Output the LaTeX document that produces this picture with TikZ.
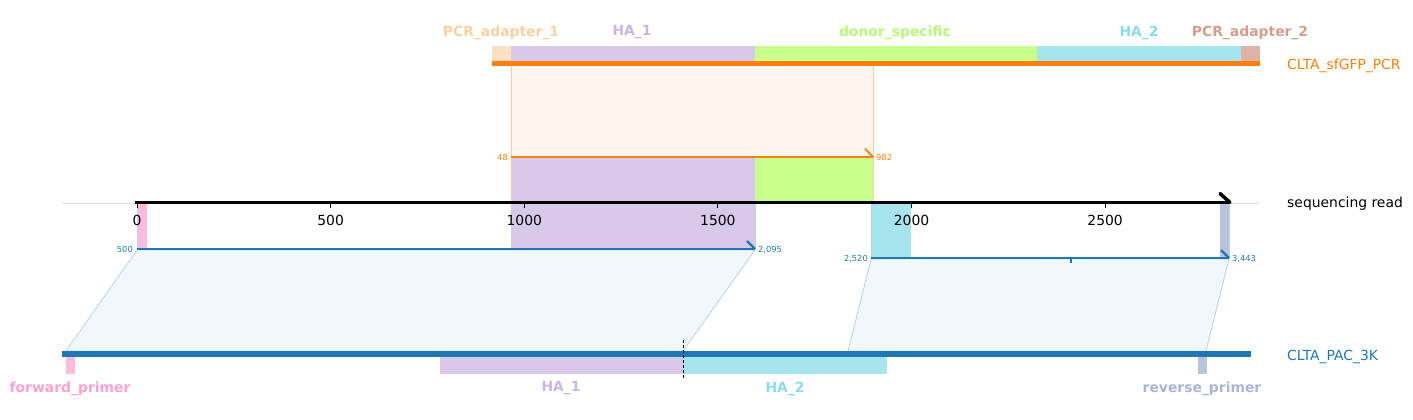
\documentclass[tikz,border=0pt]{standalone}
\usepackage{fontspec}
\setmainfont{DejaVu Sans}
\definecolor{orng}{HTML}{FF7F0E}
\definecolor{blu}{HTML}{1F77B4}
\definecolor{adOneBox}{HTML}{FBE0C4}
\definecolor{adOneTxt}{HTML}{F8D0A2}
\definecolor{haOneBox}{HTML}{D8C8EA}
\definecolor{haOneTxt}{HTML}{C9B5E5}
\definecolor{donBox}{HTML}{C8FF8C}
\definecolor{donTxt}{HTML}{BAF77C}
\definecolor{haTwoBox}{HTML}{A8E4EE}
\definecolor{haTwoTxt}{HTML}{8ED9EA}
\definecolor{adTwoBox}{HTML}{DFB2A6}
\definecolor{adTwoTxt}{HTML}{D89C8C}
\definecolor{fwdBox}{HTML}{FFBBDD}
\definecolor{fwdTxt}{HTML}{FFA0D0}
\definecolor{revBox}{HTML}{B8C4DC}
\definecolor{revTxt}{HTML}{A8B5D6}
\definecolor{orFill}{HTML}{FEF5EF}
\definecolor{orEdge}{HTML}{FBCCA6}
\definecolor{blFill}{HTML}{F2F7FB}
\definecolor{blEdge}{HTML}{B4D3EA}
\tikzset{
  feat/.style={font=\bfseries\fontsize{13.9}{15}\selectfont, inner sep=0pt},
  rowname/.style={font=\fontsize{13.9}{15}\selectfont, anchor=west, inner sep=0pt},
  ticklab/.style={font=\fontsize{13.9}{15}\selectfont, inner sep=0pt},
  small/.style={font=\fontsize{8.3}{9}\selectfont, inner sep=0pt},
  mapline/.style={line width=2.2pt},
}
\begin{document}
\begin{tikzpicture}[x=1pt,y=-1pt]
\useasboundingbox (0,0) rectangle (1413,420);
% ---------- top construct ----------
\fill[adOneBox] (492,46) rectangle (511,61);
\fill[haOneBox] (511,46) rectangle (755,61);
\fill[donBox] (755,46) rectangle (1037,61);
\fill[haTwoBox] (1037,46) rectangle (1241,61);
\fill[adTwoBox] (1241,46) rectangle (1260,61);
\draw[orng, line width=5pt] (492,63.5) -- (1260,63.5);
\node[feat, text=adOneTxt] (lAd1) at (501,32.5) {PCR\_adapter\_1};
\node[feat, text=haOneTxt] (lHa1t) at (632,32.5) {HA\_1};
\node[feat, text=donTxt] (lDon) at (895,32.5) {donor\_specific};
\node[feat, text=haTwoTxt] (lHa2t) at (1139,32.5) {HA\_2};
\node[feat, text=adTwoTxt] (lAd2) at (1250,32.5) {PCR\_adapter\_2};
\node[rowname, text=orng] (nTop) at (1287,65.5) {CLTA\_sfGFP\_PCR};
% ---------- top alignment ----------
\fill[orFill] (511,66) rectangle (873,157);
\fill[haOneBox] (511,157) rectangle (755,202);
\fill[donBox] (755,157) rectangle (873,202);
\draw[orEdge, line width=0.8pt] (511,66) -- (511,202);
\draw[orEdge, line width=0.8pt] (873,66) -- (873,202);
\coordinate (oS) at (511,157);
\coordinate (oE) at (873,157);
\coordinate (oB) at (865,148.5);
\draw[orng, line width=1.8pt] (oS) -- (oE);
\draw[orng, line width=1.8pt] (oB) -- (oE);
\node[small, text=orng, anchor=east] (o48) at (508,157.5) {48};
\node[small, text=orng, anchor=west] (o982) at (876,157.5) {982};
% ---------- axis ----------
\draw[black!12, line width=0.8pt] (62,203) -- (1260,203);
% ---------- lower alignment boxes ----------
\fill[fwdBox] (137,203) rectangle (147,249);
\fill[haOneBox] (511,203) rectangle (755,249);
\fill[haTwoBox] (871,203) rectangle (911,258);
\fill[revBox] (1220,203) rectangle (1229,258);
\draw[blEdge, line width=0.8pt] (137,203) -- (137,249);
\draw[blEdge, line width=0.8pt] (755,203) -- (755,249);
\draw[blEdge, line width=0.8pt] (871,203) -- (871,258);
\draw[blEdge, line width=0.8pt] (1229,203) -- (1229,258);
% trapezoids
\filldraw[fill=blFill, draw=blEdge, line width=0.8pt] (137,250) -- (755,250) -- (683,351) -- (66,351) -- cycle;
\filldraw[fill=blFill, draw=blEdge, line width=0.8pt] (871,259) -- (1229,259) -- (1206,351) -- (848,351) -- cycle;
% mapping lines
\coordinate (aS) at (137,249);
\coordinate (aE) at (755,249);
\coordinate (aB) at (747,241);
\draw[blu, mapline] (aS) -- (aE);
\draw[blu, mapline] (aB) -- (aE);
\node[small, text=blu, anchor=east] (a500) at (133,249.5) {500};
\node[small, text=blu, anchor=west] (a2095) at (758,249.5) {2,095};
\coordinate (bS) at (871,258);
\coordinate (bE) at (1229,258);
\coordinate (bB) at (1221,250);
\coordinate (bT1) at (1071,258);
\coordinate (bT2) at (1071,263);
\draw[blu, mapline] (bS) -- (bE);
\draw[blu, mapline] (bB) -- (bE);
\draw[blu, line width=1.6pt] (bT1) -- (bT2);
\node[small, text=blu, anchor=east] (b2520) at (868,258.5) {2,520};
\node[small, text=blu, anchor=west] (b3443) at (1232,258.5) {3,443};
% axis on top
\coordinate (axS) at (135,202.5);
\coordinate (axE) at (1230,202.5);
\coordinate (axB) at (1220,193.5);
\draw[black, line width=3.5pt] (axS) -- (axE);
\draw[black, line width=3.5pt, line cap=round] (axB) -- (axE);
\foreach \v in {0,500,1000,1500,2000,2500} {
  \draw[black, line width=0.9pt] ({137+0.38725*\v},203) -- ({137+0.38725*\v},208);
  \node[ticklab] at ({137+0.38725*\v},220.5) {\v};
}
\node[rowname, text=black] (nRead) at (1287,203.5) {sequencing read};
% ---------- bottom reference ----------
\draw[blu, line width=6pt] (62,354) -- (1251,354);
\fill[fwdBox] (66,357) rectangle (75,374);
\fill[haOneBox] (440,357) rectangle (683,374);
\fill[haTwoBox] (683,357) rectangle (887,374);
\fill[revBox] (1198,357) rectangle (1207,374);
\coordinate (dT) at (683,340);
\coordinate (dB) at (683,378);
\draw[black, line width=1pt, dash pattern=on 3pt off 2pt] (dT) -- (dB);
\node[feat, text=fwdTxt] (lFwd) at (70,388.5) {forward\_primer};
\node[feat, text=haOneTxt] (lHa1b) at (561,388.5) {HA\_1};
\node[feat, text=haTwoTxt] (lHa2b) at (785,388.5) {HA\_2};
\node[feat, text=revTxt] (lRev) at (1202,388.5) {reverse\_primer};
\node[rowname, text=blu] (nBot) at (1287,356.5) {CLTA\_PAC\_3K};
\end{tikzpicture}
\end{document}
